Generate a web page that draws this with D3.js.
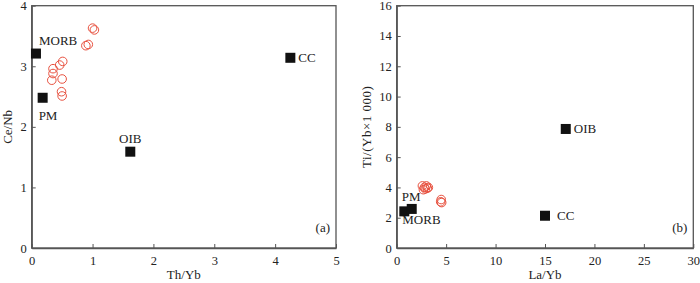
<!DOCTYPE html>
<html><head><meta charset="utf-8">
<script src="https://cdn.jsdelivr.net/npm/d3@7"></script>
<style>body{margin:0;background:#fff}svg{display:block}text{font-family:"Liberation Serif","Times New Roman",serif;fill:#222}</style>
</head><body><svg id="c" width="700" height="283"></svg>
<script>
// Panel (a): Th/Yb vs Ce/Nb
const refNamesA = ["MORB","PM","OIB","CC"];
const refXA = [0.07,0.18,1.62,4.25];
const refYA = [3.21,2.48,1.59,3.14];
const sampleXA = [1.00,1.03,0.89,0.93,0.51,0.46,0.35,0.35,0.33,0.50,0.49,0.50];
const sampleYA = [3.63,3.60,3.34,3.36,3.08,3.02,2.96,2.88,2.77,2.79,2.58,2.51];
const xTicksA = [0,1,2,3,4,5];
const yTicksA = [0,1,2,3,4];
// Panel (b): La/Yb vs Ti/(Yb×1000)
const refNamesB = ["MORB","PM","OIB","CC"];
const refXB = [0.77,1.52,17.1,15.0];
const refYB = [2.42,2.58,7.86,2.13];
const sampleXB = [2.6,2.8,3.0,2.9,3.1,2.7,3.2,4.5,4.45,4.55];
const sampleYB = [4.1,4.0,4.1,3.9,3.95,3.85,4.0,3.2,3.05,3.0];
const xTicksB = [0,5,10,15,20,25,30];
const yTicksB = [0,2,4,6,8,10,12,14,16];

const svg = d3.select("#c");
const axisColor = "#555";

function panel(o){
  const g = svg.append("g");
  const x = d3.scaleLinear().domain(o.xd).range([o.l,o.r]);
  const y = d3.scaleLinear().domain(o.yd).range([o.b,o.t]);
  g.append("rect").attr("x",o.l).attr("y",o.t).attr("width",o.r-o.l).attr("height",o.b-o.t)
    .attr("fill","none").attr("stroke",axisColor).attr("stroke-width",1.3);
  const xa = g.append("g").attr("transform",`translate(0,${o.b})`)
    .call(d3.axisBottom(x).tickValues(o.xt).tickFormat(d3.format("d")).tickSizeInner(-4).tickSizeOuter(0).tickPadding(8));
  const ya = g.append("g").attr("transform",`translate(${o.l},0)`)
    .call(d3.axisLeft(y).tickValues(o.yt).tickFormat(d3.format("d")).tickSizeInner(-4).tickSizeOuter(0).tickPadding(5));
  [xa,ya].forEach(a=>{
    a.attr("font-family",null).attr("font-size",null);
    a.select(".domain").attr("stroke",axisColor).attr("stroke-width",1.3);
    a.selectAll(".tick line").attr("stroke",axisColor);
    a.selectAll(".tick text").attr("font-size",12.5).attr("fill","#222");
  });
  g.append("text").attr("x",(o.l+o.r)/2).attr("y",279).attr("text-anchor","middle")
    .attr("font-size",13).text(o.xlab);
  g.append("text").attr("transform",`translate(${o.ylx},${(o.t+o.b)/2}) rotate(-90)`)
    .attr("text-anchor","middle").attr("font-size",13).attr("letter-spacing",o.yls).text(o.ylab);
  // samples
  o.sx.forEach((v,i)=>{
    g.append("circle").attr("cx",x(v)).attr("cy",y(o.sy[i])).attr("r",4.3)
      .attr("fill","none").attr("stroke","#e8513f").attr("stroke-width",1);
  });
  // references
  o.rn.forEach((n,i)=>{
    g.append("rect").attr("x",x(o.rx[i])-5).attr("y",y(o.ry[i])-5).attr("width",10).attr("height",10)
      .attr("fill","#111");
    const lp = o.lab[i];
    g.append("text").attr("x",x(o.rx[i])+lp[0]).attr("y",y(o.ry[i])+lp[1])
      .attr("text-anchor",lp[2]).attr("font-size",13).text(n);
  });
  g.append("text").attr("x",o.r-6).attr("y",o.b-16).attr("text-anchor","end").attr("font-size",13).text(o.tag);
}

panel({l:31.7,r:336,t:5.7,b:248,xd:[0,5],yd:[0,4],xt:xTicksA,yt:yTicksA,
  xlab:"Th/Yb",ylab:"Ce/Nb",ylx:12,yls:0,sx:sampleXA,sy:sampleYA,rn:refNamesA,rx:refXA,ry:refYA,tag:"(a)",
  lab:[[3,-9,"start"],[-4,22,"start"],[0,-9,"middle"],[8,4,"start"]]});
panel({l:396.7,r:693.3,t:5.7,b:248,xd:[0,30],yd:[0,16],xt:xTicksB,yt:yTicksB,
  xlab:"La/Yb",ylab:"Ti/(Yb×1 000)",ylx:371,yls:0.5,sx:sampleXB,sy:sampleYB,rn:refNamesB,rx:refXB,ry:refYB,tag:"(b)",
  lab:[[-2,13,"start"],[-10,-8,"start"],[8,4,"start"],[12,4,"start"]]});
</script></body></html>
